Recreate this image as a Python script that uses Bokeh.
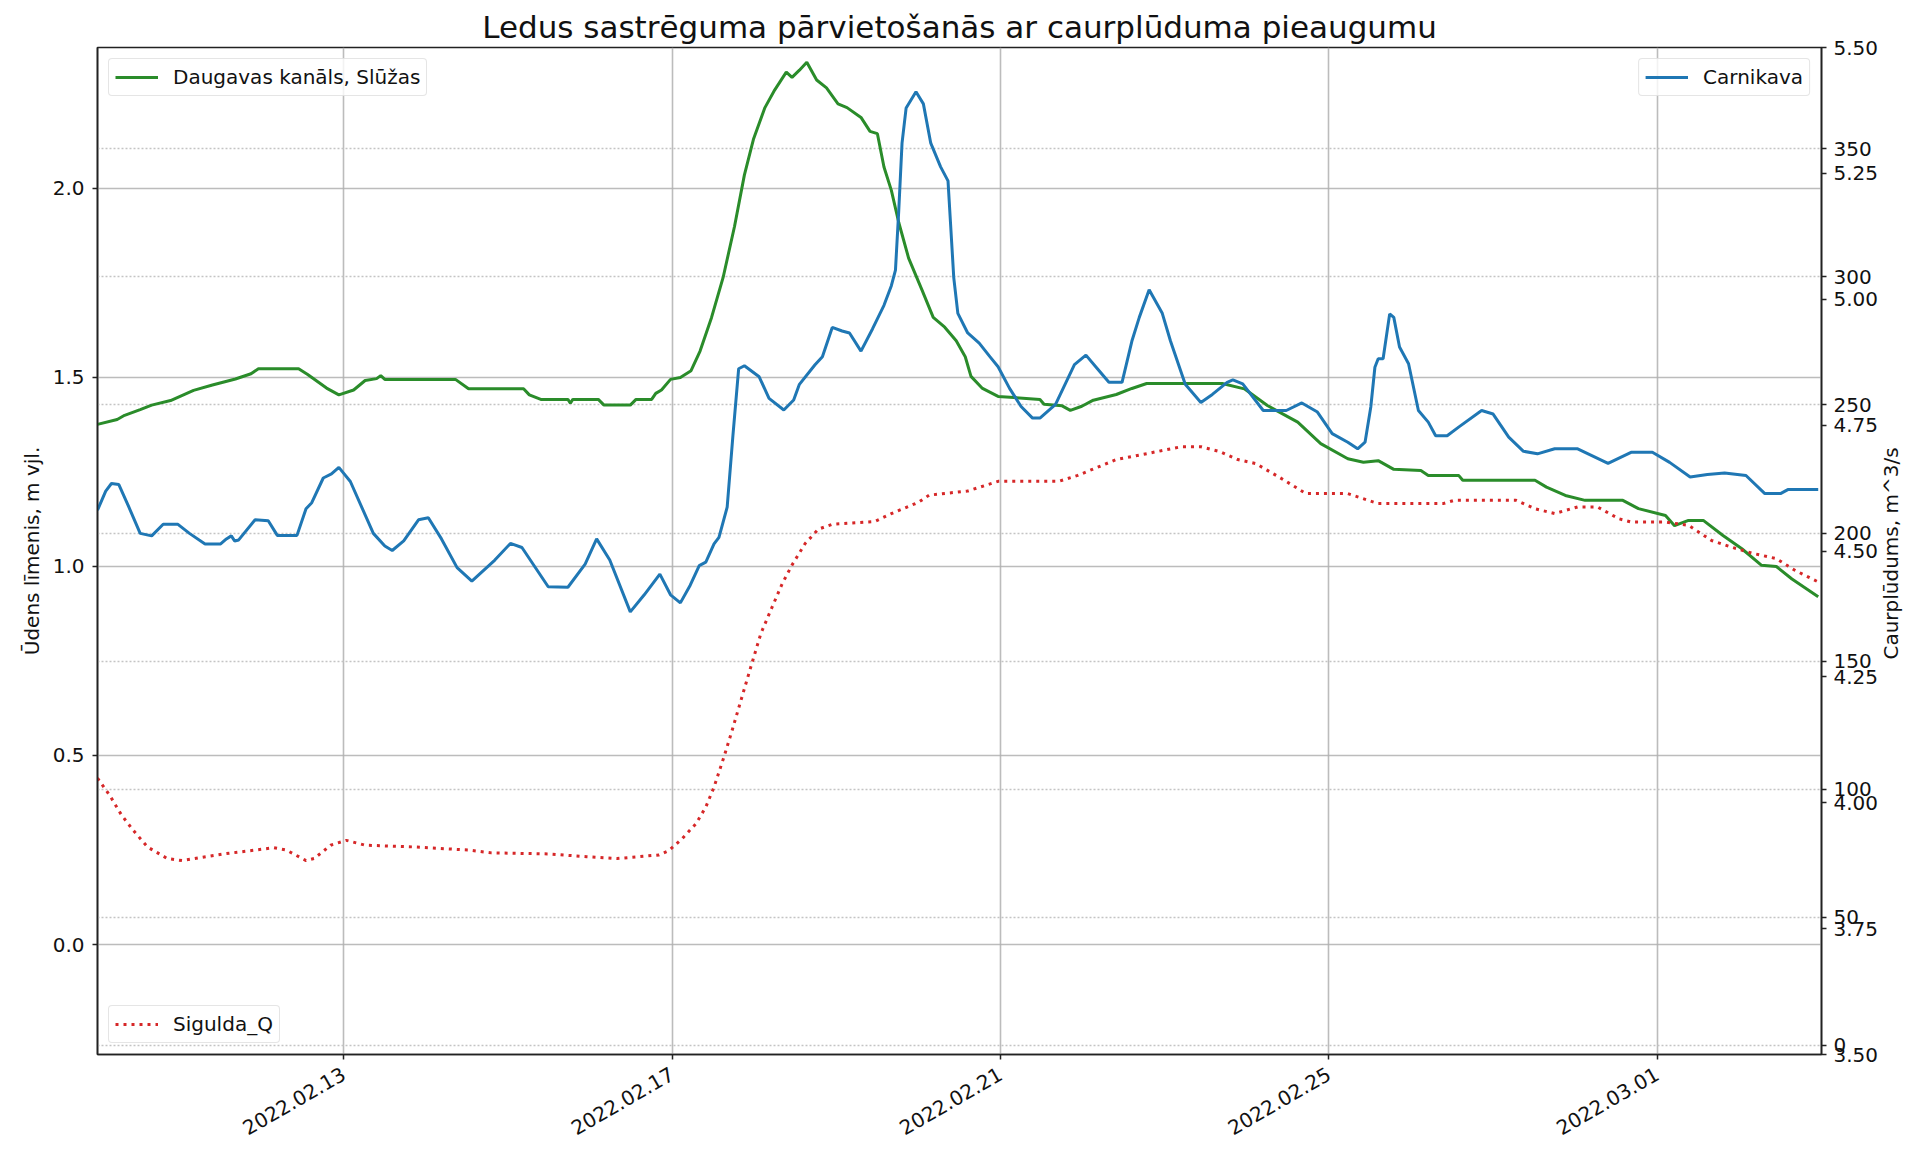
import math
import numpy as np
import pandas as pd
from bokeh.plotting import figure
from bokeh.models import (Range1d, LinearAxis, FixedTicker, Legend, LegendItem, Grid, Label,
                          PrintfTickFormatter, DatetimeTickFormatter, CustomJSTickFormatter)
from bokeh.embed import file_html
from bokeh.resources import INLINE

# ---------------- data ----------------
chart_title = "Ledus sastrēguma pārvietošanās ar caurplūduma pieaugumu"
start_date = "2022-02-10"
end_date = "2022-03-03"
x_tick_dates = ["2022-02-13", "2022-02-17", "2022-02-21", "2022-02-25", "2022-03-01"]
level_ticks = [0.0, 0.5, 1.0, 1.5, 2.0]
carn_ticks = [3.50, 3.75, 4.00, 4.25, 4.50, 4.75, 5.00, 5.25, 5.50]
q_ticks = [0, 50, 100, 150, 200, 250, 300, 350]

# Daugavas kanāls, Slūžas (left axis, m) ; x = days since 2022-02-10 00:00
daug_day = [0.00, 0.24, 0.33, 0.52, 0.66, 0.89, 1.17, 1.40, 1.68, 1.87, 1.96, 2.45, 2.56, 2.79,
            2.94, 3.12, 3.26, 3.40, 3.45, 3.50, 4.36, 4.52, 5.19, 5.26, 5.40, 5.73, 5.76, 5.79,
            6.10, 6.17, 6.49, 6.56, 6.75, 6.80, 6.87, 6.98, 7.10, 7.23, 7.34, 7.48, 7.62, 7.76,
            7.88, 7.99, 8.13, 8.25, 8.39, 8.46, 8.55, 8.64, 8.76, 8.88, 9.02, 9.13, 9.30, 9.41,
            9.50, 9.58, 9.67, 9.76, 9.88, 10.04, 10.18, 10.32, 10.46, 10.57, 10.64, 10.78, 10.97,
            11.48, 11.53, 11.75, 11.85, 11.99, 12.13, 12.41, 12.60, 12.78, 13.70, 13.97, 14.25,
            14.62, 14.90, 15.23, 15.42, 15.60, 15.79, 16.12, 16.21, 16.58, 16.63, 17.51, 17.65,
            17.88, 18.12, 18.58, 18.77, 19.10, 19.21, 19.38, 19.56, 19.80, 20.03, 20.27, 20.45,
            20.64, 20.96]
daug_level = [1.376, 1.389, 1.400, 1.415, 1.427, 1.439, 1.466, 1.480, 1.496, 1.510, 1.523, 1.523,
              1.508, 1.472, 1.454, 1.467, 1.492, 1.497, 1.505, 1.495, 1.495, 1.470, 1.470, 1.454,
              1.442, 1.442, 1.432, 1.442, 1.442, 1.427, 1.427, 1.442, 1.442, 1.458, 1.467, 1.495,
              1.500, 1.518, 1.570, 1.659, 1.764, 1.900, 2.036, 2.130, 2.214, 2.261, 2.308, 2.294,
              2.313, 2.334, 2.287, 2.266, 2.224, 2.214, 2.188, 2.151, 2.145, 2.057, 1.995, 1.910,
              1.816, 1.733, 1.659, 1.633, 1.597, 1.555, 1.503, 1.471, 1.450, 1.442, 1.429, 1.425,
              1.413, 1.424, 1.440, 1.455, 1.471, 1.484, 1.484, 1.470, 1.426, 1.382, 1.325, 1.285,
              1.276, 1.280, 1.257, 1.254, 1.241, 1.241, 1.228, 1.228, 1.210, 1.188, 1.175, 1.175,
              1.153, 1.135, 1.108, 1.122, 1.122, 1.082, 1.047, 1.003, 1.000, 0.967, 0.920]

# Carnikava (second axis, 3.50 - 5.50)
carn_day = [0.00, 0.10, 0.17, 0.26, 0.38, 0.52, 0.66, 0.80, 0.98, 1.12, 1.31, 1.50, 1.57, 1.63,
            1.67, 1.72, 1.92, 2.08, 2.19, 2.43, 2.54, 2.61, 2.75, 2.85, 2.94, 3.08, 3.36, 3.50,
            3.59, 3.73, 3.91, 4.03, 4.19, 4.38, 4.56, 4.84, 5.03, 5.17, 5.49, 5.73, 5.94, 6.08,
            6.24, 6.49, 6.66, 6.85, 6.98, 7.10, 7.22, 7.33, 7.41, 7.51, 7.57, 7.67, 7.74, 7.81,
            7.88, 8.06, 8.18, 8.36, 8.48, 8.55, 8.74, 8.83, 8.95, 9.07, 9.16, 9.30, 9.44, 9.58,
            9.67, 9.72, 9.76, 9.80, 9.85, 9.97, 10.06, 10.15, 10.27, 10.36, 10.39, 10.43, 10.48,
            10.60, 10.74, 10.87, 10.97, 11.11, 11.25, 11.39, 11.48, 11.67, 11.90, 12.04, 12.18,
            12.32, 12.48, 12.60, 12.69, 12.81, 12.97, 13.07, 13.25, 13.44, 13.58, 13.76, 13.83,
            13.95, 14.20, 14.48, 14.67, 14.86, 15.04, 15.23, 15.35, 15.44, 15.51, 15.56, 15.60,
            15.66, 15.74, 15.79, 15.86, 15.97, 16.09, 16.21, 16.30, 16.44, 16.58, 16.86, 17.00,
            17.19, 17.37, 17.54, 17.75, 18.03, 18.40, 18.68, 18.94, 19.15, 19.40, 19.61, 19.82,
            20.08, 20.31, 20.50, 20.59, 20.96]
carn_level = [4.581, 4.619, 4.634, 4.632, 4.588, 4.535, 4.530, 4.553, 4.553, 4.535, 4.514, 4.514,
              4.524, 4.530, 4.520, 4.522, 4.562, 4.560, 4.531, 4.531, 4.584, 4.596, 4.645, 4.653,
              4.666, 4.638, 4.535, 4.510, 4.501, 4.520, 4.562, 4.566, 4.524, 4.467, 4.440, 4.482,
              4.515, 4.507, 4.429, 4.428, 4.474, 4.524, 4.482, 4.379, 4.413, 4.454, 4.413, 4.397,
              4.432, 4.471, 4.478, 4.514, 4.527, 4.587, 4.729, 4.862, 4.868, 4.846, 4.803, 4.780,
              4.800, 4.831, 4.870, 4.886, 4.944, 4.937, 4.933, 4.897, 4.941, 4.988, 5.027, 5.058,
              5.176, 5.310, 5.380, 5.412, 5.388, 5.310, 5.263, 5.235, 5.153, 5.043, 4.972, 4.933,
              4.913, 4.886, 4.866, 4.823, 4.787, 4.764, 4.764, 4.791, 4.870, 4.889, 4.862, 4.835,
              4.835, 4.917, 4.964, 5.019, 4.972, 4.917, 4.831, 4.795, 4.811, 4.835, 4.840, 4.832,
              4.779, 4.779, 4.794, 4.776, 4.733, 4.716, 4.703, 4.716, 4.786, 4.865, 4.882, 4.882,
              4.971, 4.964, 4.905, 4.872, 4.779, 4.756, 4.729, 4.729, 4.746, 4.779, 4.772, 4.726,
              4.698, 4.693, 4.703, 4.703, 4.674, 4.696, 4.696, 4.676, 4.647, 4.652, 4.655, 4.650,
              4.614, 4.614, 4.622, 4.622]

# Sigulda_Q (third axis, m^3/s)
sig_day = [0.00, 0.15, 0.29, 0.43, 0.61, 0.85, 1.03, 1.54, 2.15, 2.30, 2.54, 2.64, 2.84, 3.03,
           3.26, 3.87, 4.52, 4.80, 5.49, 5.96, 6.33, 6.84, 6.96, 7.12, 7.29, 7.41, 7.51, 7.63,
           7.73, 7.85, 7.97, 8.08, 8.20, 8.34, 8.46, 8.62, 8.78, 8.95, 9.47, 9.67, 10.00, 10.13,
           10.60, 10.97, 11.71, 11.94, 12.41, 12.78, 13.20, 13.44, 13.67, 13.89, 14.11, 14.39,
           14.72, 15.23, 15.60, 16.39, 16.53, 17.28, 17.51, 17.75, 18.03, 18.27, 18.53, 18.68,
           19.10, 19.38, 19.66, 19.90, 20.17, 20.45, 20.68, 20.96]
sig_q = [104.3, 97.5, 90.0, 84.1, 77.4, 72.9, 72.1, 74.7, 77.1, 76.2, 72.1, 72.9, 78.1, 80.0,
         78.1, 77.4, 76.2, 75.1, 74.7, 73.6, 72.9, 74.3, 76.0, 80.6, 86.5, 93.0, 100.8, 112.5,
         122.9, 136.0, 149.0, 160.7, 169.8, 180.2, 187.5, 195.9, 201.5, 203.4, 204.5, 207.6,
         212.0, 214.8, 216.4, 220.2, 220.2, 222.5, 228.7, 231.0, 233.7, 233.7, 231.8, 228.7,
         227.1, 221.9, 215.4, 215.4, 211.5, 211.5, 212.8, 212.8, 209.5, 207.6, 210.2, 210.2,
         205.6, 204.3, 204.3, 203.0, 197.1, 194.5, 192.0, 190.0, 185.4, 180.9]

q_axis_label = "Caurplūdums, m^3/s"
level_axis_label = "Ūdens līmenis, m vjl."

# ---------------- styling ----------------
FONT = "DejaVu Sans"
GREEN = "#2a8c2a"
BLUE = "#1f77b4"
RED = "#d62728"
TXT = "#111111"

level_range = (-0.291, 2.373)
carn_range = (3.5, 5.5)
q_range = (-3.63, 389.6)

start = pd.Timestamp(start_date)
end = pd.Timestamp(end_date)


def days_to_dt(d):
    return start + pd.to_timedelta(np.asarray(d, dtype=float), unit="D")


p = figure(width=1906, height=1149, x_axis_type="datetime",
           x_range=Range1d(start, end), y_range=Range1d(*level_range),
           output_backend="svg", toolbar_location=None,
           min_border_left=97, min_border_right=85, min_border_top=47, min_border_bottom=95)
p.extra_y_ranges = {"carn": Range1d(*carn_range), "q": Range1d(*q_range)}
p.background_fill_color = "white"
p.border_fill_color = "white"
p.outline_line_color = "#222222"
p.outline_line_width = 1.6

p.title.text = chart_title
p.title.align = "center"
p.title.text_font = FONT
p.title.text_font_size = "31px"
p.title.text_font_style = "normal"
p.title.text_color = TXT
p.title.standoff = 5


def style_axis(ax):
    ax.major_label_text_font = FONT
    ax.major_label_text_font_size = "20px"
    ax.major_label_text_color = TXT
    ax.axis_label_text_font = FONT
    ax.axis_label_text_font_size = "20px"
    ax.axis_label_text_font_style = "normal"
    ax.axis_label_text_color = TXT
    ax.major_tick_in = 0
    ax.major_tick_out = 5
    ax.major_tick_line_color = "#222222"
    ax.major_tick_line_width = 1.5
    ax.minor_tick_line_color = None
    ax.axis_line_color = "#222222"
    ax.axis_line_width = 1.6


# x axis
xa = p.xaxis[0]
style_axis(xa)
xa.ticker = FixedTicker(ticks=[pd.Timestamp(d).value / 1e6 for d in x_tick_dates])
fmt = "%Y.%m.%d"
xa.formatter = DatetimeTickFormatter(days=fmt, months=fmt, hours=fmt, years=fmt,
                                     hourmin=fmt, minutes=fmt)
xa.major_label_orientation = math.pi / 6
xa.major_label_standoff = 13

# left axis
ya = p.yaxis[0]
style_axis(ya)
ya.ticker = FixedTicker(ticks=level_ticks)
ya.formatter = PrintfTickFormatter(format="%.1f")
ya.axis_label = level_axis_label
ya.major_label_standoff = 8
ya.axis_label_standoff = 6

# right axis: Carnikava scale and discharge scale share one position (as in the original)
c_lo, c_hi = carn_range
q_lo, q_hi = q_range
q_in_c = [c_lo + (q - q_lo) * (c_hi - c_lo) / (q_hi - q_lo) for q in q_ticks]
ra = LinearAxis(y_range_name="carn",
                ticker=FixedTicker(ticks=carn_ticks + q_in_c),
                formatter=CustomJSTickFormatter(
                    args=dict(ct=carn_ticks, qlo=q_lo, qhi=q_hi, clo=c_lo, chi=c_hi),
                    code="""
for (const c of ct) { if (Math.abs(tick - c) < 1e-9) return tick.toFixed(2); }
return String(Math.round(qlo + (tick - clo) * (qhi - qlo) / (chi - clo)));
"""))
style_axis(ra)
ra.major_label_standoff = 7
p.add_layout(ra, "right")

# discharge axis title (reads bottom-to-top, centred on the plot height)
qlabel = Label(x=9, y=501, x_units="screen", y_units="screen", text=q_axis_label,
               angle=math.pi / 2, text_align="center", text_baseline="middle",
               text_font=FONT, text_font_size="20px", text_color=TXT)
p.add_layout(qlabel, "right")

# grids
p.xgrid.ticker = xa.ticker
p.ygrid.ticker = ya.ticker
for g in (p.xgrid[0], p.ygrid[0]):
    g.grid_line_color = "#b0b0b0"
    g.grid_line_width = 1.6
    g.grid_line_alpha = 0.85
qgrid = Grid(dimension=1, y_range_name="q", ticker=FixedTicker(ticks=q_ticks),
             grid_line_color="#c4c4c4", grid_line_width=1.4, grid_line_dash="2 2")
p.add_layout(qgrid)

# lines
r_g = p.line(days_to_dt(daug_day), daug_level, line_color=GREEN, line_width=3)
r_b = p.line(days_to_dt(carn_day), carn_level, y_range_name="carn",
             line_color=BLUE, line_width=3)
r_r = p.line(days_to_dt(sig_day), sig_q, y_range_name="q",
             line_color=RED, line_width=3, line_dash="3 5")


def add_legend(label, rend, loc):
    lg = Legend(items=[LegendItem(label=label, renderers=[rend])], location=loc)
    lg.label_text_font = FONT
    lg.label_text_font_size = "20px"
    lg.label_text_color = TXT
    lg.glyph_width = 43
    lg.glyph_height = 20
    lg.label_height = 20
    lg.label_standoff = 15
    lg.padding = 6
    lg.margin = 11
    lg.border_line_color = "#cccccc"
    lg.border_line_width = 1.2
    lg.background_fill_color = "white"
    lg.background_fill_alpha = 0.8
    if "border_radius" in lg.properties():
        lg.border_radius = 4
    p.add_layout(lg)


add_legend("Daugavas kanāls, Slūžas", r_g, "top_left")
add_legend("Carnikava", r_b, "top_right")
add_legend("Sigulda_Q", r_r, "bottom_left")

open("out.html", "w").write(file_html(p, INLINE))
